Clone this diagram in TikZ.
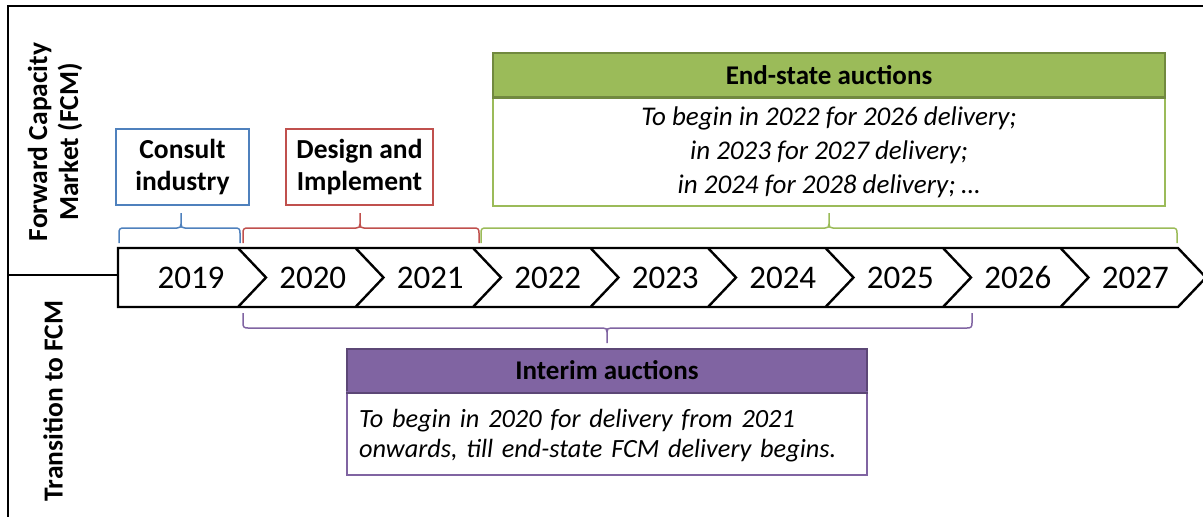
\documentclass[tikz,border=0pt]{standalone}
\usepackage{fontspec}
\setmainfont{Carlito}
\definecolor{offblue}{HTML}{4F81BD}
\definecolor{offred}{HTML}{C0504D}
\definecolor{offgreen}{HTML}{9BBB59}
\definecolor{offgreendark}{HTML}{71893F}
\definecolor{offpurple}{HTML}{8064A2}
\definecolor{offpurpledark}{HTML}{5C4776}
% curly brace: style, x1, x2, xm, y of the ends, direction (-1 points up, +1 points down)
\newcommand{\curlybrace}[6]{%
  \draw[#1] (#2,#5) -- (#2,{#5+(#6)*10})
  .. controls (#2,{#5+(#6)*14}) and (#2+1,{#5+(#6)*15}) .. (#2+5,{#5+(#6)*15})
  -- (#4-4,{#5+(#6)*15})
  .. controls (#4-1,{#5+(#6)*15}) and (#4,{#5+(#6)*16}) .. (#4,{#5+(#6)*19})
  -- (#4,{#5+(#6)*30}) -- (#4,{#5+(#6)*19})
  .. controls (#4,{#5+(#6)*16}) and (#4+1,{#5+(#6)*15}) .. (#4+4,{#5+(#6)*15})
  -- (#3-5,{#5+(#6)*15})
  .. controls (#3-1,{#5+(#6)*15}) and (#3,{#5+(#6)*14}) .. (#3,{#5+(#6)*10})
  -- (#3,#5);}
\begin{document}
\begin{tikzpicture}[x=1pt,y=-1pt,
  frame/.style={line width=2.6pt, black},
  tline/.style={line width=2.4pt, black, line join=miter},
  year/.style={font=\fontsize{33}{38}\selectfont, anchor=base, inner sep=0pt},
  lanelabel/.style={font=\bfseries\fontsize{27.5}{31}\selectfont, align=center, rotate=90},
  phase/.style={draw, line width=2pt, fill=white, minimum height=76pt, inner sep=0pt,
    align=center, font=\bfseries\fontsize{27.5}{32}\selectfont},
  head/.style={draw, line width=2pt, inner sep=0pt, font=\bfseries\fontsize{27}{30}\selectfont},
  body/.style={draw, line width=2pt, fill=white, inner sep=0pt},
  bracebar/.style={line width=1.5pt}]
\useasboundingbox (0,0) rectangle (1203,517);

% frame and lane divider
\draw[frame] (8,517) -- (8,6) -- (1203,6);
\coordinate (divL) at (8,275);
\coordinate (divR) at (118,275);
\draw[frame] (divL) -- (divR);

% lane labels
\node[lanelabel] (fcm) at (55,142) {Forward Capacity\\Market (FCM)};
\node[lanelabel] (trans) at (53,401) {Transition to FCM};

% chevron timeline
\draw[tline] (118,248) -- (1178,248) -- (1206,277.5) -- (1178,307) -- (118,307) -- cycle;
\foreach \i in {0,...,7}{
  \pgfmathsetmacro{\bx}{238+117.5*\i}
  \draw[tline] (\bx,248) -- (\bx+28,277.5) -- (\bx,307);
}
\foreach \i/\yr in {1/2020,2/2021,3/2022,4/2023,5/2024,6/2025,7/2026,8/2027}{
  \pgfmathsetmacro{\cx}{238+117.5*\i-117.5/2+16}
  \node[year] (y\yr) at (\cx,288) {\yr};
}
\node[year] (y2019) at (191,288) {2019};

% braces over and under the timeline
\curlybrace{bracebar, offblue}{119}{240}{181}{243}{-1}
\curlybrace{bracebar, offred}{243}{479}{360}{243}{-1}
\curlybrace{bracebar, offgreen}{481}{1177}{829}{243}{-1}
\curlybrace{bracebar, offpurple}{243}{972}{607}{313}{1}

% phase boxes
\node[phase, draw=offblue, minimum width=133pt] (consult) at (182.5,167) {Consult\\industry};
\node[phase, draw=offred, minimum width=147pt] (design) at (359.5,167) {Design and\\Implement};

% end-state auctions
\node[head, draw=offgreendark, fill=offgreen, minimum width=672pt, minimum height=44pt] (endh) at (829,75) {End-state auctions};
\node[body, draw=offgreen, minimum width=672pt, minimum height=108pt, align=center,
  font=\itshape\fontsize{27}{34}\selectfont] (endb) at (829,152)
  {To begin in 2022 for 2026 delivery;\\in 2023 for 2027 delivery;\\in 2024 for 2028 delivery; …};
\draw[line width=2pt, offgreendark] (endh.south west) -- (endh.south east);

% interim auctions
\node[head, draw=offpurpledark, fill=offpurple, minimum width=520pt, minimum height=43pt] (intH) at (607,370.5) {Interim auctions};
\node[body, draw=offpurple, minimum width=520pt, minimum height=83pt] (intB) at (607,433.5) {};
\node[anchor=west, inner sep=0pt, align=left, text width=496pt,
  font=\itshape\fontsize{26.3}{30}\selectfont] (intText) at (359,436)
  {To begin in 2020 for delivery from 2021\\onwards, till end-state FCM delivery begins.};
\draw[line width=2pt, offpurpledark] (intH.south west) -- (intH.south east);
\end{tikzpicture}
\end{document}
